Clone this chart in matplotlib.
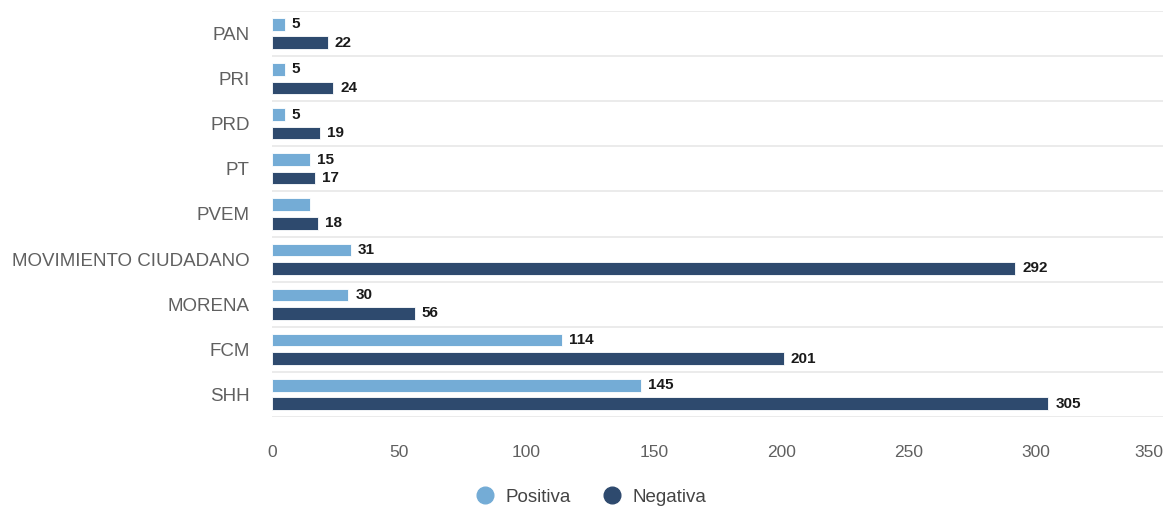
import matplotlib
matplotlib.use("Agg")
import matplotlib.pyplot as plt
from matplotlib.lines import Line2D
import numpy as np

plt.rcParams['font.family'] = ['Liberation Sans', 'DejaVu Sans']

categories = ["PAN", "PRI", "PRD", "PT", "PVEM", "MOVIMIENTO CIUDADANO",
              "MORENA", "FCM", "SHH"]
positiva = [5, 5, 5, 15, 15, 31, 30, 114, 145]
negativa = [22, 24, 19, 17, 18, 292, 56, 201, 305]
# PVEM's positive value is not printed on its bar
positiva_labels = ["5", "5", "5", "15", None, "31", "30", "114", "145"]
negativa_labels = [str(v) for v in negativa]
x_ticks = [0, 50, 100, 150, 200, 250, 300, 350]

c_pos = "#74acd6"
c_neg = "#2e4a6e"

fig = plt.figure(figsize=(11.66, 5.08), dpi=100)
ax = fig.add_axes([272 / 1166, 1 - 417 / 508, (1163 - 272) / 1166, (417 - 11) / 508])

y = np.arange(len(categories))
h = 0.28
off = 0.205
ax.barh(y - off, positiva, height=h, color=c_pos, edgecolor="white", linewidth=0.6, zorder=3)
ax.barh(y + off, negativa, height=h, color=c_neg, edgecolor="white", linewidth=0.6, zorder=3)

for yi, v, lab in zip(y, positiva, positiva_labels):
    if lab:
        ax.annotate(lab, (v, yi - off), xytext=(5, 0), textcoords="offset points",
                    va="center", ha="left", fontsize=11, fontweight="bold", color="#1a1a1a")
for yi, v, lab in zip(y, negativa, negativa_labels):
    ax.annotate(lab, (v, yi + off), xytext=(5, 0), textcoords="offset points",
                va="center", ha="left", fontsize=11, fontweight="bold", color="#1a1a1a")

ax.set_xlim(0, 350)
ax.set_ylim(len(categories) - 0.5, -0.5)
ax.set_yticks(y)
ax.set_yticklabels(categories, fontsize=13.5, color="#606060")
ax.set_xticks(x_ticks)
ax.set_xticklabels([str(t) for t in x_ticks], fontsize=12.5, color="#606060")
ax.get_xticklabels()[-1].set_horizontalalignment("right")
ax.tick_params(axis="y", length=0, pad=16)
ax.tick_params(axis="x", length=0, pad=20)

# separators between categories
for b in np.arange(-0.5, len(categories), 1.0):
    ax.axhline(b, color="#e8e8e8", linewidth=1.2, zorder=1)
for s in ax.spines.values():
    s.set_visible(False)

handles = [Line2D([], [], marker="o", linestyle="", markersize=12, color=c_pos),
           Line2D([], [], marker="o", linestyle="", markersize=12, color=c_neg)]
fig.legend(handles, ["Positiva", "Negativa"], loc="center", bbox_to_anchor=(586 / 1166, 1 - 497 / 508),
           ncol=2, frameon=False, labelcolor="#444444", handletextpad=0.1,
           columnspacing=1.2, prop={'size': 13.5})

fig.savefig("out.png", dpi=100)
